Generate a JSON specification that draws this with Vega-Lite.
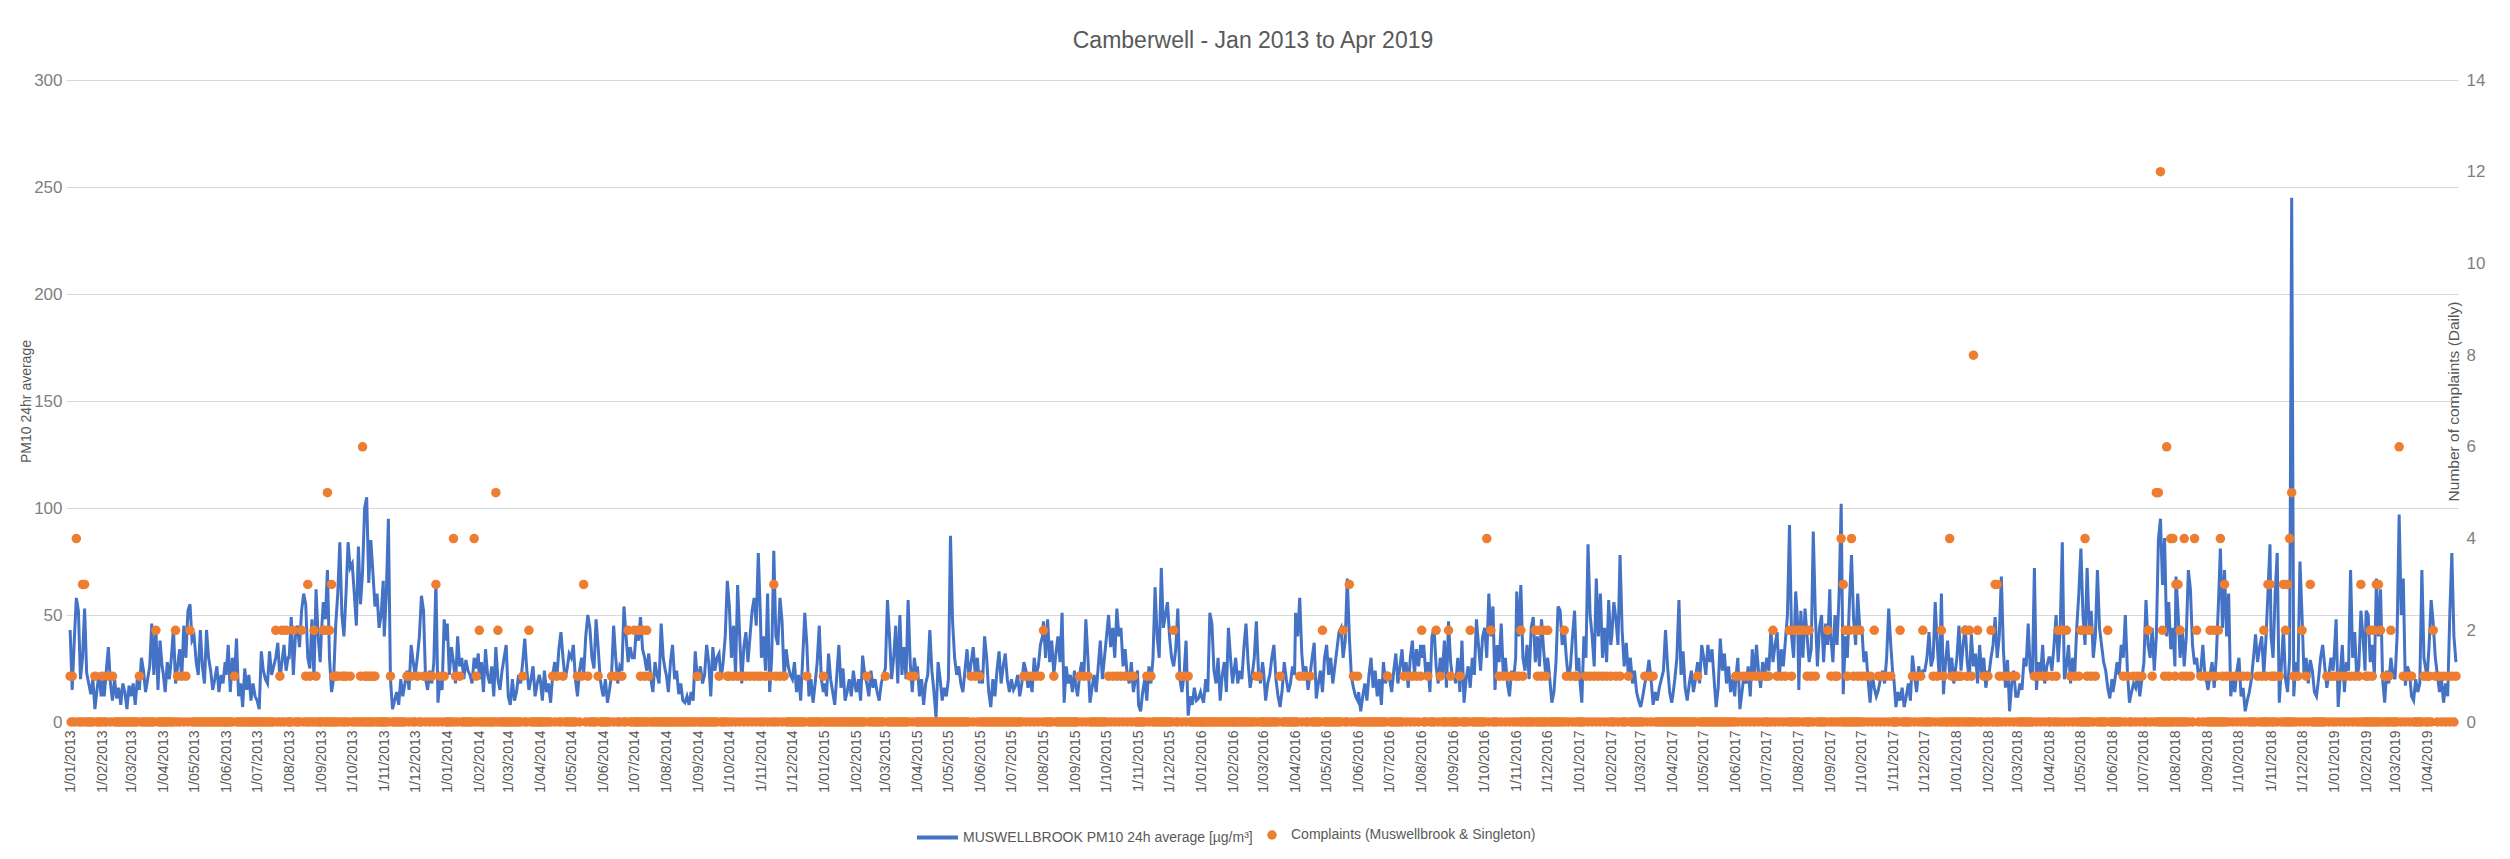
{
"$schema":"https://vega.github.io/schema/vega-lite/v6.json",
"width":2392,"height":642,
"autosize":{"type":"none"},
"padding":{"left":66,"top":80,"right":52,"bottom":137},
"background":"white",
"title":{"text":"Camberwell -  Jan 2013 to Apr 2019","fontSize":23,"fontWeight":"normal","color":"#595959","font":"Liberation Sans","anchor":"middle","frame":"group","offset":3,"dx":-9,"dy":8,"baseline":"bottom"},
"config":{"view":{"stroke":null},"font":"Liberation Sans"},
"data":{"values":[
{"d":"2013-01-01","p":43,"c":1},{"d":"2013-01-03","p":15,"c":1},{"d":"2013-01-05","p":38,"c":0},{"d":"2013-01-07","p":58,"c":4},{"d":"2013-01-09","p":52,"c":0},{"d":"2013-01-11","p":20,"c":0},{"d":"2013-01-13","p":30,"c":3},{"d":"2013-01-15","p":53,"c":3},{"d":"2013-01-17","p":23,"c":0},{"d":"2013-01-19","p":18,"c":0},{"d":"2013-01-21","p":13,"c":0},{"d":"2013-01-23","p":20,"c":0},{"d":"2013-01-25","p":6,"c":1},{"d":"2013-01-27","p":15,"c":0},{"d":"2013-01-29","p":23,"c":0},{"d":"2013-01-31","p":12,"c":0},
{"d":"2013-02-01","p":22,"c":1},{"d":"2013-02-03","p":12,"c":0},{"d":"2013-02-05","p":24,"c":0},{"d":"2013-02-07","p":35,"c":1},{"d":"2013-02-09","p":18,"c":0},{"d":"2013-02-11","p":10,"c":1},{"d":"2013-02-13","p":20,"c":0},{"d":"2013-02-15","p":11,"c":0},{"d":"2013-02-17","p":16,"c":0},{"d":"2013-02-19","p":8,"c":0},{"d":"2013-02-21","p":18,"c":0},{"d":"2013-02-23","p":14,"c":0},{"d":"2013-02-25","p":6,"c":0},{"d":"2013-02-27","p":17,"c":0},
{"d":"2013-03-01","p":12,"c":0},{"d":"2013-03-03","p":18,"c":0},{"d":"2013-03-05","p":8,"c":0},{"d":"2013-03-07","p":20,"c":0},{"d":"2013-03-09","p":15,"c":1},{"d":"2013-03-11","p":30,"c":0},{"d":"2013-03-13","p":24,"c":0},{"d":"2013-03-15","p":14,"c":0},{"d":"2013-03-17","p":20,"c":0},{"d":"2013-03-19","p":26,"c":0},{"d":"2013-03-21","p":46,"c":0},{"d":"2013-03-23","p":22,"c":0},{"d":"2013-03-25","p":44,"c":2},{"d":"2013-03-27","p":15,"c":0},{"d":"2013-03-29","p":38,"c":0},{"d":"2013-03-31","p":26,"c":0},
{"d":"2013-04-01","p":23,"c":0},{"d":"2013-04-03","p":14,"c":0},{"d":"2013-04-05","p":28,"c":0},{"d":"2013-04-07","p":20,"c":0},{"d":"2013-04-09","p":30,"c":0},{"d":"2013-04-11","p":44,"c":0},{"d":"2013-04-13","p":18,"c":2},{"d":"2013-04-15","p":26,"c":1},{"d":"2013-04-17","p":34,"c":0},{"d":"2013-04-19","p":20,"c":1},{"d":"2013-04-21","p":45,"c":0},{"d":"2013-04-23","p":30,"c":1},{"d":"2013-04-25","p":52,"c":0},{"d":"2013-04-27","p":55,"c":2},{"d":"2013-04-29","p":38,"c":0},
{"d":"2013-05-01","p":40,"c":0},{"d":"2013-05-03","p":28,"c":0},{"d":"2013-05-05","p":22,"c":0},{"d":"2013-05-07","p":43,"c":0},{"d":"2013-05-09","p":26,"c":0},{"d":"2013-05-11","p":18,"c":0},{"d":"2013-05-13","p":43,"c":0},{"d":"2013-05-15","p":30,"c":0},{"d":"2013-05-17","p":24,"c":0},{"d":"2013-05-19","p":15,"c":0},{"d":"2013-05-21","p":20,"c":0},{"d":"2013-05-23","p":26,"c":0},{"d":"2013-05-25","p":14,"c":0},{"d":"2013-05-27","p":22,"c":0},{"d":"2013-05-29","p":18,"c":0},{"d":"2013-05-31","p":28,"c":0},
{"d":"2013-06-01","p":22,"c":0},{"d":"2013-06-03","p":36,"c":0},{"d":"2013-06-05","p":14,"c":0},{"d":"2013-06-07","p":30,"c":0},{"d":"2013-06-09","p":20,"c":1},{"d":"2013-06-11","p":39,"c":0},{"d":"2013-06-13","p":12,"c":0},{"d":"2013-06-15","p":18,"c":0},{"d":"2013-06-17","p":7,"c":0},{"d":"2013-06-19","p":25,"c":0},{"d":"2013-06-21","p":15,"c":0},{"d":"2013-06-23","p":22,"c":0},{"d":"2013-06-25","p":10,"c":0},{"d":"2013-06-27","p":18,"c":0},{"d":"2013-06-29","p":12,"c":0},
{"d":"2013-07-01","p":10,"c":0},{"d":"2013-07-03","p":6,"c":0},{"d":"2013-07-05","p":33,"c":0},{"d":"2013-07-07","p":24,"c":0},{"d":"2013-07-09","p":20,"c":0},{"d":"2013-07-11","p":18,"c":0},{"d":"2013-07-13","p":33,"c":0},{"d":"2013-07-15","p":22,"c":0},{"d":"2013-07-17","p":26,"c":0},{"d":"2013-07-19","p":30,"c":2},{"d":"2013-07-21","p":37,"c":0},{"d":"2013-07-23","p":20,"c":1},{"d":"2013-07-25","p":28,"c":2},{"d":"2013-07-27","p":36,"c":0},{"d":"2013-07-29","p":24,"c":2},{"d":"2013-07-31","p":30,"c":0},
{"d":"2013-08-01","p":30,"c":0},{"d":"2013-08-03","p":49,"c":0},{"d":"2013-08-05","p":22,"c":2},{"d":"2013-08-07","p":40,"c":0},{"d":"2013-08-09","p":45,"c":0},{"d":"2013-08-11","p":35,"c":0},{"d":"2013-08-13","p":52,"c":2},{"d":"2013-08-15","p":60,"c":0},{"d":"2013-08-17","p":55,"c":1},{"d":"2013-08-19","p":30,"c":3},{"d":"2013-08-21","p":25,"c":1},{"d":"2013-08-23","p":48,"c":0},{"d":"2013-08-25","p":20,"c":2},{"d":"2013-08-27","p":62,"c":1},{"d":"2013-08-29","p":40,"c":0},{"d":"2013-08-31","p":28,"c":0},
{"d":"2013-09-01","p":40,"c":0},{"d":"2013-09-03","p":56,"c":2},{"d":"2013-09-05","p":48,"c":2},{"d":"2013-09-07","p":71,"c":5},{"d":"2013-09-09","p":30,"c":2},{"d":"2013-09-11","p":14,"c":3},{"d":"2013-09-13","p":20,"c":1},{"d":"2013-09-15","p":45,"c":1},{"d":"2013-09-17","p":60,"c":1},{"d":"2013-09-19","p":84,"c":0},{"d":"2013-09-21","p":50,"c":1},{"d":"2013-09-23","p":40,"c":1},{"d":"2013-09-25","p":60,"c":1},{"d":"2013-09-27","p":84,"c":0},{"d":"2013-09-29","p":72,"c":1},
{"d":"2013-10-01","p":74,"c":0},{"d":"2013-10-03","p":60,"c":0},{"d":"2013-10-05","p":45,"c":0},{"d":"2013-10-07","p":82,"c":0},{"d":"2013-10-09","p":55,"c":1},{"d":"2013-10-11","p":70,"c":6},{"d":"2013-10-13","p":100,"c":1},{"d":"2013-10-15","p":105,"c":1},{"d":"2013-10-17","p":65,"c":1},{"d":"2013-10-19","p":85,"c":1},{"d":"2013-10-21","p":70,"c":1},{"d":"2013-10-23","p":54,"c":1},{"d":"2013-10-25","p":60,"c":0},{"d":"2013-10-27","p":44,"c":0},{"d":"2013-10-29","p":50,"c":0},{"d":"2013-10-31","p":66,"c":0},
{"d":"2013-11-01","p":40,"c":0},{"d":"2013-11-03","p":60,"c":0},{"d":"2013-11-05","p":95,"c":0},{"d":"2013-11-07","p":20,"c":1},{"d":"2013-11-09","p":6,"c":0},{"d":"2013-11-11","p":10,"c":0},{"d":"2013-11-13","p":14,"c":0},{"d":"2013-11-15","p":8,"c":0},{"d":"2013-11-17","p":20,"c":0},{"d":"2013-11-19","p":12,"c":0},{"d":"2013-11-21","p":18,"c":0},{"d":"2013-11-23","p":24,"c":1},{"d":"2013-11-25","p":15,"c":0},{"d":"2013-11-27","p":36,"c":1},{"d":"2013-11-29","p":28,"c":0},
{"d":"2013-12-01","p":22,"c":0},{"d":"2013-12-03","p":30,"c":1},{"d":"2013-12-05","p":40,"c":0},{"d":"2013-12-07","p":59,"c":0},{"d":"2013-12-09","p":52,"c":1},{"d":"2013-12-11","p":20,"c":0},{"d":"2013-12-13","p":15,"c":1},{"d":"2013-12-15","p":24,"c":0},{"d":"2013-12-17","p":18,"c":1},{"d":"2013-12-19","p":28,"c":0},{"d":"2013-12-21","p":66,"c":3},{"d":"2013-12-23","p":9,"c":0},{"d":"2013-12-25","p":20,"c":1},{"d":"2013-12-27","p":15,"c":0},{"d":"2013-12-29","p":48,"c":1},{"d":"2013-12-31","p":38,"c":0},
{"d":"2014-01-01","p":46,"c":0},{"d":"2014-01-03","p":22,"c":0},{"d":"2014-01-05","p":35,"c":0},{"d":"2014-01-07","p":28,"c":4},{"d":"2014-01-09","p":18,"c":1},{"d":"2014-01-11","p":40,"c":0},{"d":"2014-01-13","p":26,"c":1},{"d":"2014-01-15","p":30,"c":0},{"d":"2014-01-17","p":20,"c":0},{"d":"2014-01-19","p":29,"c":0},{"d":"2014-01-21","p":24,"c":0},{"d":"2014-01-23","p":22,"c":0},{"d":"2014-01-25","p":18,"c":0},{"d":"2014-01-27","p":30,"c":4},{"d":"2014-01-29","p":25,"c":1},{"d":"2014-01-31","p":32,"c":0},
{"d":"2014-02-01","p":20,"c":2},{"d":"2014-02-03","p":28,"c":0},{"d":"2014-02-05","p":14,"c":0},{"d":"2014-02-07","p":34,"c":0},{"d":"2014-02-09","p":22,"c":0},{"d":"2014-02-11","p":18,"c":0},{"d":"2014-02-13","p":26,"c":0},{"d":"2014-02-15","p":12,"c":0},{"d":"2014-02-17","p":35,"c":5},{"d":"2014-02-19","p":20,"c":2},{"d":"2014-02-21","p":15,"c":0},{"d":"2014-02-23","p":24,"c":0},{"d":"2014-02-25","p":30,"c":0},{"d":"2014-02-27","p":36,"c":0},
{"d":"2014-03-01","p":12,"c":0},{"d":"2014-03-03","p":8,"c":0},{"d":"2014-03-05","p":20,"c":0},{"d":"2014-03-07","p":10,"c":0},{"d":"2014-03-09","p":14,"c":0},{"d":"2014-03-11","p":22,"c":0},{"d":"2014-03-13","p":18,"c":0},{"d":"2014-03-15","p":28,"c":1},{"d":"2014-03-17","p":39,"c":0},{"d":"2014-03-19","p":24,"c":0},{"d":"2014-03-21","p":15,"c":2},{"d":"2014-03-23","p":20,"c":0},{"d":"2014-03-25","p":26,"c":0},{"d":"2014-03-27","p":12,"c":0},{"d":"2014-03-29","p":18,"c":0},{"d":"2014-03-31","p":22,"c":0},
{"d":"2014-04-01","p":20,"c":0},{"d":"2014-04-03","p":10,"c":0},{"d":"2014-04-05","p":24,"c":0},{"d":"2014-04-07","p":14,"c":0},{"d":"2014-04-09","p":18,"c":0},{"d":"2014-04-11","p":9,"c":0},{"d":"2014-04-13","p":22,"c":1},{"d":"2014-04-15","p":28,"c":0},{"d":"2014-04-17","p":20,"c":1},{"d":"2014-04-19","p":34,"c":0},{"d":"2014-04-21","p":42,"c":0},{"d":"2014-04-23","p":30,"c":1},{"d":"2014-04-25","p":20,"c":0},{"d":"2014-04-27","p":25,"c":0},{"d":"2014-04-29","p":32,"c":0},
{"d":"2014-05-01","p":30,"c":0},{"d":"2014-05-03","p":36,"c":0},{"d":"2014-05-05","p":20,"c":0},{"d":"2014-05-07","p":12,"c":1},{"d":"2014-05-09","p":24,"c":0},{"d":"2014-05-11","p":30,"c":1},{"d":"2014-05-13","p":22,"c":3},{"d":"2014-05-15","p":40,"c":0},{"d":"2014-05-17","p":50,"c":1},{"d":"2014-05-19","p":44,"c":0},{"d":"2014-05-21","p":30,"c":0},{"d":"2014-05-23","p":25,"c":0},{"d":"2014-05-25","p":48,"c":0},{"d":"2014-05-27","p":35,"c":1},{"d":"2014-05-29","p":20,"c":0},{"d":"2014-05-31","p":14,"c":0},
{"d":"2014-06-01","p":12,"c":0},{"d":"2014-06-03","p":20,"c":0},{"d":"2014-06-05","p":9,"c":0},{"d":"2014-06-07","p":15,"c":0},{"d":"2014-06-09","p":22,"c":1},{"d":"2014-06-11","p":45,"c":0},{"d":"2014-06-13","p":30,"c":1},{"d":"2014-06-15","p":18,"c":0},{"d":"2014-06-17","p":26,"c":0},{"d":"2014-06-19","p":24,"c":1},{"d":"2014-06-21","p":54,"c":0},{"d":"2014-06-23","p":40,"c":0},{"d":"2014-06-25","p":28,"c":2},{"d":"2014-06-27","p":35,"c":0},{"d":"2014-06-29","p":30,"c":0},
{"d":"2014-07-01","p":30,"c":2},{"d":"2014-07-03","p":44,"c":0},{"d":"2014-07-05","p":38,"c":2},{"d":"2014-07-07","p":49,"c":1},{"d":"2014-07-09","p":34,"c":2},{"d":"2014-07-11","p":30,"c":1},{"d":"2014-07-13","p":24,"c":2},{"d":"2014-07-15","p":32,"c":1},{"d":"2014-07-17","p":20,"c":0},{"d":"2014-07-19","p":14,"c":0},{"d":"2014-07-21","p":28,"c":0},{"d":"2014-07-23","p":22,"c":0},{"d":"2014-07-25","p":18,"c":0},{"d":"2014-07-27","p":46,"c":0},{"d":"2014-07-29","p":30,"c":0},{"d":"2014-07-31","p":24,"c":0},
{"d":"2014-08-01","p":22,"c":0},{"d":"2014-08-03","p":14,"c":0},{"d":"2014-08-05","p":28,"c":0},{"d":"2014-08-07","p":36,"c":0},{"d":"2014-08-09","p":20,"c":0},{"d":"2014-08-11","p":24,"c":0},{"d":"2014-08-13","p":13,"c":0},{"d":"2014-08-15","p":18,"c":0},{"d":"2014-08-17","p":10,"c":0},{"d":"2014-08-19","p":9,"c":0},{"d":"2014-08-21","p":12,"c":0},{"d":"2014-08-23","p":8,"c":0},{"d":"2014-08-25","p":14,"c":0},{"d":"2014-08-27","p":10,"c":0},{"d":"2014-08-29","p":33,"c":0},{"d":"2014-08-31","p":20,"c":1},
{"d":"2014-09-01","p":20,"c":0},{"d":"2014-09-03","p":26,"c":0},{"d":"2014-09-05","p":18,"c":0},{"d":"2014-09-07","p":22,"c":0},{"d":"2014-09-09","p":36,"c":0},{"d":"2014-09-11","p":28,"c":0},{"d":"2014-09-13","p":12,"c":0},{"d":"2014-09-15","p":35,"c":0},{"d":"2014-09-17","p":24,"c":0},{"d":"2014-09-19","p":30,"c":0},{"d":"2014-09-21","p":32,"c":1},{"d":"2014-09-23","p":20,"c":0},{"d":"2014-09-25","p":28,"c":0},{"d":"2014-09-27","p":40,"c":0},{"d":"2014-09-29","p":66,"c":1},
{"d":"2014-10-01","p":54,"c":1},{"d":"2014-10-03","p":30,"c":0},{"d":"2014-10-05","p":45,"c":1},{"d":"2014-10-07","p":22,"c":0},{"d":"2014-10-09","p":64,"c":1},{"d":"2014-10-11","p":40,"c":0},{"d":"2014-10-13","p":18,"c":1},{"d":"2014-10-15","p":35,"c":0},{"d":"2014-10-17","p":42,"c":1},{"d":"2014-10-19","p":28,"c":0},{"d":"2014-10-21","p":40,"c":1},{"d":"2014-10-23","p":52,"c":0},{"d":"2014-10-25","p":58,"c":1},{"d":"2014-10-27","p":45,"c":0},{"d":"2014-10-29","p":79,"c":1},{"d":"2014-10-31","p":50,"c":0},
{"d":"2014-11-01","p":30,"c":1},{"d":"2014-11-03","p":40,"c":0},{"d":"2014-11-05","p":24,"c":1},{"d":"2014-11-07","p":60,"c":0},{"d":"2014-11-09","p":14,"c":1},{"d":"2014-11-11","p":30,"c":0},{"d":"2014-11-13","p":80,"c":3},{"d":"2014-11-15","p":40,"c":1},{"d":"2014-11-17","p":36,"c":0},{"d":"2014-11-19","p":58,"c":1},{"d":"2014-11-21","p":47,"c":0},{"d":"2014-11-23","p":20,"c":1},{"d":"2014-11-25","p":34,"c":0},{"d":"2014-11-27","p":26,"c":0},{"d":"2014-11-29","p":22,"c":0},
{"d":"2014-12-01","p":20,"c":0},{"d":"2014-12-03","p":28,"c":0},{"d":"2014-12-05","p":14,"c":0},{"d":"2014-12-07","p":22,"c":0},{"d":"2014-12-09","p":10,"c":0},{"d":"2014-12-11","p":30,"c":0},{"d":"2014-12-13","p":51,"c":0},{"d":"2014-12-15","p":36,"c":1},{"d":"2014-12-17","p":12,"c":0},{"d":"2014-12-19","p":20,"c":0},{"d":"2014-12-21","p":9,"c":0},{"d":"2014-12-23","p":18,"c":0},{"d":"2014-12-25","p":28,"c":0},{"d":"2014-12-27","p":45,"c":0},{"d":"2014-12-29","p":20,"c":0},{"d":"2014-12-31","p":14,"c":1},
{"d":"2015-01-01","p":18,"c":0},{"d":"2015-01-03","p":12,"c":0},{"d":"2015-01-05","p":32,"c":0},{"d":"2015-01-07","p":20,"c":0},{"d":"2015-01-09","p":14,"c":0},{"d":"2015-01-11","p":8,"c":0},{"d":"2015-01-13","p":22,"c":0},{"d":"2015-01-15","p":36,"c":0},{"d":"2015-01-17","p":16,"c":0},{"d":"2015-01-19","p":25,"c":0},{"d":"2015-01-21","p":10,"c":0},{"d":"2015-01-23","p":14,"c":0},{"d":"2015-01-25","p":20,"c":0},{"d":"2015-01-27","p":12,"c":0},{"d":"2015-01-29","p":24,"c":0},{"d":"2015-01-31","p":16,"c":0},
{"d":"2015-02-01","p":14,"c":0},{"d":"2015-02-03","p":20,"c":0},{"d":"2015-02-05","p":10,"c":0},{"d":"2015-02-07","p":31,"c":0},{"d":"2015-02-09","p":22,"c":0},{"d":"2015-02-11","p":18,"c":1},{"d":"2015-02-13","p":12,"c":0},{"d":"2015-02-15","p":24,"c":0},{"d":"2015-02-17","p":16,"c":0},{"d":"2015-02-19","p":20,"c":0},{"d":"2015-02-21","p":14,"c":0},{"d":"2015-02-23","p":10,"c":0},{"d":"2015-02-25","p":18,"c":0},{"d":"2015-02-27","p":22,"c":0},
{"d":"2015-03-01","p":25,"c":1},{"d":"2015-03-03","p":57,"c":0},{"d":"2015-03-05","p":40,"c":0},{"d":"2015-03-07","p":20,"c":0},{"d":"2015-03-09","p":30,"c":0},{"d":"2015-03-11","p":45,"c":0},{"d":"2015-03-13","p":18,"c":0},{"d":"2015-03-15","p":50,"c":0},{"d":"2015-03-17","p":22,"c":0},{"d":"2015-03-19","p":35,"c":0},{"d":"2015-03-21","p":20,"c":0},{"d":"2015-03-23","p":57,"c":0},{"d":"2015-03-25","p":28,"c":1},{"d":"2015-03-27","p":14,"c":0},{"d":"2015-03-29","p":30,"c":1},{"d":"2015-03-31","p":22,"c":0},
{"d":"2015-04-01","p":26,"c":0},{"d":"2015-04-03","p":12,"c":0},{"d":"2015-04-05","p":20,"c":0},{"d":"2015-04-07","p":8,"c":0},{"d":"2015-04-09","p":18,"c":0},{"d":"2015-04-11","p":22,"c":0},{"d":"2015-04-13","p":43,"c":0},{"d":"2015-04-15","p":24,"c":0},{"d":"2015-04-17","p":14,"c":0},{"d":"2015-04-19","p":2,"c":0},{"d":"2015-04-21","p":28,"c":0},{"d":"2015-04-23","p":20,"c":0},{"d":"2015-04-25","p":10,"c":0},{"d":"2015-04-27","p":16,"c":0},{"d":"2015-04-29","p":12,"c":0},
{"d":"2015-05-01","p":20,"c":0},{"d":"2015-05-03","p":87,"c":0},{"d":"2015-05-05","p":47,"c":0},{"d":"2015-05-07","p":30,"c":0},{"d":"2015-05-09","p":22,"c":0},{"d":"2015-05-11","p":26,"c":0},{"d":"2015-05-13","p":18,"c":0},{"d":"2015-05-15","p":14,"c":0},{"d":"2015-05-17","p":24,"c":0},{"d":"2015-05-19","p":34,"c":0},{"d":"2015-05-21","p":20,"c":0},{"d":"2015-05-23","p":28,"c":1},{"d":"2015-05-25","p":35,"c":0},{"d":"2015-05-27","p":22,"c":1},{"d":"2015-05-29","p":30,"c":0},{"d":"2015-05-31","p":18,"c":1},
{"d":"2015-06-01","p":24,"c":0},{"d":"2015-06-03","p":18,"c":0},{"d":"2015-06-05","p":40,"c":0},{"d":"2015-06-07","p":30,"c":0},{"d":"2015-06-09","p":14,"c":0},{"d":"2015-06-11","p":7,"c":0},{"d":"2015-06-13","p":20,"c":0},{"d":"2015-06-15","p":12,"c":0},{"d":"2015-06-17","p":24,"c":0},{"d":"2015-06-19","p":33,"c":0},{"d":"2015-06-21","p":18,"c":0},{"d":"2015-06-23","p":26,"c":0},{"d":"2015-06-25","p":32,"c":0},{"d":"2015-06-27","p":20,"c":0},{"d":"2015-06-29","p":14,"c":0},
{"d":"2015-07-01","p":20,"c":0},{"d":"2015-07-03","p":15,"c":0},{"d":"2015-07-05","p":17,"c":0},{"d":"2015-07-07","p":22,"c":0},{"d":"2015-07-09","p":12,"c":0},{"d":"2015-07-11","p":18,"c":0},{"d":"2015-07-13","p":28,"c":1},{"d":"2015-07-15","p":24,"c":0},{"d":"2015-07-17","p":16,"c":1},{"d":"2015-07-19","p":20,"c":0},{"d":"2015-07-21","p":14,"c":1},{"d":"2015-07-23","p":30,"c":0},{"d":"2015-07-25","p":22,"c":1},{"d":"2015-07-27","p":26,"c":0},{"d":"2015-07-29","p":36,"c":1},{"d":"2015-07-31","p":40,"c":0},
{"d":"2015-08-01","p":47,"c":2},{"d":"2015-08-03","p":30,"c":0},{"d":"2015-08-05","p":48,"c":0},{"d":"2015-08-07","p":28,"c":0},{"d":"2015-08-09","p":38,"c":0},{"d":"2015-08-11","p":22,"c":1},{"d":"2015-08-13","p":32,"c":0},{"d":"2015-08-15","p":40,"c":0},{"d":"2015-08-17","p":28,"c":0},{"d":"2015-08-19","p":51,"c":0},{"d":"2015-08-21","p":9,"c":0},{"d":"2015-08-23","p":26,"c":0},{"d":"2015-08-25","p":18,"c":0},{"d":"2015-08-27","p":22,"c":0},{"d":"2015-08-29","p":14,"c":0},{"d":"2015-08-31","p":24,"c":0},
{"d":"2015-09-01","p":18,"c":0},{"d":"2015-09-03","p":12,"c":0},{"d":"2015-09-05","p":22,"c":1},{"d":"2015-09-07","p":28,"c":0},{"d":"2015-09-09","p":20,"c":1},{"d":"2015-09-11","p":48,"c":0},{"d":"2015-09-13","p":30,"c":1},{"d":"2015-09-15","p":9,"c":0},{"d":"2015-09-17","p":16,"c":0},{"d":"2015-09-19","p":22,"c":0},{"d":"2015-09-21","p":14,"c":0},{"d":"2015-09-23","p":26,"c":0},{"d":"2015-09-25","p":38,"c":0},{"d":"2015-09-27","p":20,"c":0},{"d":"2015-09-29","p":30,"c":0},
{"d":"2015-10-01","p":40,"c":0},{"d":"2015-10-03","p":50,"c":1},{"d":"2015-10-05","p":35,"c":0},{"d":"2015-10-07","p":44,"c":1},{"d":"2015-10-09","p":30,"c":0},{"d":"2015-10-11","p":53,"c":1},{"d":"2015-10-13","p":40,"c":0},{"d":"2015-10-15","p":44,"c":1},{"d":"2015-10-17","p":26,"c":0},{"d":"2015-10-19","p":34,"c":1},{"d":"2015-10-21","p":22,"c":0},{"d":"2015-10-23","p":18,"c":1},{"d":"2015-10-25","p":28,"c":0},{"d":"2015-10-27","p":14,"c":1},{"d":"2015-10-29","p":20,"c":0},{"d":"2015-10-31","p":24,"c":0},
{"d":"2015-11-01","p":8,"c":0},{"d":"2015-11-03","p":5,"c":0},{"d":"2015-11-05","p":14,"c":0},{"d":"2015-11-07","p":20,"c":0},{"d":"2015-11-09","p":10,"c":1},{"d":"2015-11-11","p":26,"c":0},{"d":"2015-11-13","p":18,"c":1},{"d":"2015-11-15","p":30,"c":0},{"d":"2015-11-17","p":63,"c":0},{"d":"2015-11-19","p":40,"c":0},{"d":"2015-11-21","p":30,"c":0},{"d":"2015-11-23","p":72,"c":0},{"d":"2015-11-25","p":44,"c":0},{"d":"2015-11-27","p":50,"c":0},{"d":"2015-11-29","p":56,"c":0},
{"d":"2015-12-01","p":40,"c":0},{"d":"2015-12-03","p":30,"c":0},{"d":"2015-12-05","p":26,"c":2},{"d":"2015-12-07","p":34,"c":0},{"d":"2015-12-09","p":53,"c":0},{"d":"2015-12-11","p":20,"c":1},{"d":"2015-12-13","p":14,"c":0},{"d":"2015-12-15","p":22,"c":1},{"d":"2015-12-17","p":38,"c":0},{"d":"2015-12-19","p":3,"c":1},{"d":"2015-12-21","p":12,"c":0},{"d":"2015-12-23","p":8,"c":0},{"d":"2015-12-25","p":16,"c":0},{"d":"2015-12-27","p":10,"c":0},{"d":"2015-12-29","p":11,"c":0},{"d":"2015-12-31","p":14,"c":0},
{"d":"2016-01-01","p":12,"c":0},{"d":"2016-01-03","p":9,"c":0},{"d":"2016-01-05","p":20,"c":0},{"d":"2016-01-07","p":14,"c":0},{"d":"2016-01-09","p":51,"c":0},{"d":"2016-01-11","p":46,"c":0},{"d":"2016-01-13","p":24,"c":0},{"d":"2016-01-15","p":18,"c":0},{"d":"2016-01-17","p":30,"c":0},{"d":"2016-01-19","p":10,"c":0},{"d":"2016-01-21","p":22,"c":0},{"d":"2016-01-23","p":28,"c":0},{"d":"2016-01-25","p":14,"c":0},{"d":"2016-01-27","p":44,"c":0},{"d":"2016-01-29","p":30,"c":0},{"d":"2016-01-31","p":18,"c":0},
{"d":"2016-02-01","p":22,"c":0},{"d":"2016-02-03","p":30,"c":0},{"d":"2016-02-05","p":18,"c":0},{"d":"2016-02-07","p":24,"c":0},{"d":"2016-02-09","p":20,"c":0},{"d":"2016-02-11","p":35,"c":0},{"d":"2016-02-13","p":46,"c":0},{"d":"2016-02-15","p":28,"c":0},{"d":"2016-02-17","p":16,"c":0},{"d":"2016-02-19","p":22,"c":0},{"d":"2016-02-21","p":30,"c":0},{"d":"2016-02-23","p":47,"c":1},{"d":"2016-02-25","p":24,"c":1},{"d":"2016-02-27","p":18,"c":0},{"d":"2016-02-29","p":28,"c":0},
{"d":"2016-03-01","p":24,"c":0},{"d":"2016-03-03","p":10,"c":0},{"d":"2016-03-05","p":18,"c":0},{"d":"2016-03-07","p":22,"c":0},{"d":"2016-03-09","p":30,"c":0},{"d":"2016-03-11","p":36,"c":0},{"d":"2016-03-13","p":20,"c":0},{"d":"2016-03-15","p":12,"c":0},{"d":"2016-03-17","p":7,"c":1},{"d":"2016-03-19","p":15,"c":0},{"d":"2016-03-21","p":28,"c":0},{"d":"2016-03-23","p":20,"c":0},{"d":"2016-03-25","p":14,"c":0},{"d":"2016-03-27","p":18,"c":0},{"d":"2016-03-29","p":26,"c":0},{"d":"2016-03-31","p":22,"c":0},
{"d":"2016-04-01","p":51,"c":0},{"d":"2016-04-03","p":40,"c":0},{"d":"2016-04-05","p":58,"c":1},{"d":"2016-04-07","p":32,"c":0},{"d":"2016-04-09","p":20,"c":1},{"d":"2016-04-11","p":26,"c":0},{"d":"2016-04-13","p":15,"c":0},{"d":"2016-04-15","p":22,"c":1},{"d":"2016-04-17","p":30,"c":0},{"d":"2016-04-19","p":37,"c":0},{"d":"2016-04-21","p":11,"c":0},{"d":"2016-04-23","p":18,"c":0},{"d":"2016-04-25","p":24,"c":0},{"d":"2016-04-27","p":14,"c":2},{"d":"2016-04-29","p":30,"c":0},
{"d":"2016-05-01","p":36,"c":0},{"d":"2016-05-03","p":22,"c":0},{"d":"2016-05-05","p":30,"c":0},{"d":"2016-05-07","p":18,"c":0},{"d":"2016-05-09","p":26,"c":0},{"d":"2016-05-11","p":34,"c":0},{"d":"2016-05-13","p":42,"c":0},{"d":"2016-05-15","p":44,"c":0},{"d":"2016-05-17","p":30,"c":2},{"d":"2016-05-19","p":38,"c":0},{"d":"2016-05-21","p":67,"c":0},{"d":"2016-05-23","p":40,"c":3},{"d":"2016-05-25","p":21,"c":0},{"d":"2016-05-27","p":16,"c":1},{"d":"2016-05-29","p":12,"c":0},{"d":"2016-05-31","p":10,"c":1},
{"d":"2016-06-01","p":14,"c":0},{"d":"2016-06-03","p":5,"c":0},{"d":"2016-06-05","p":12,"c":0},{"d":"2016-06-07","p":18,"c":0},{"d":"2016-06-09","p":10,"c":0},{"d":"2016-06-11","p":22,"c":0},{"d":"2016-06-13","p":30,"c":0},{"d":"2016-06-15","p":16,"c":0},{"d":"2016-06-17","p":24,"c":0},{"d":"2016-06-19","p":12,"c":0},{"d":"2016-06-21","p":20,"c":0},{"d":"2016-06-23","p":8,"c":0},{"d":"2016-06-25","p":28,"c":0},{"d":"2016-06-27","p":18,"c":0},{"d":"2016-06-29","p":22,"c":1},
{"d":"2016-07-01","p":20,"c":0},{"d":"2016-07-03","p":14,"c":0},{"d":"2016-07-05","p":24,"c":0},{"d":"2016-07-07","p":32,"c":0},{"d":"2016-07-09","p":18,"c":0},{"d":"2016-07-11","p":26,"c":0},{"d":"2016-07-13","p":34,"c":0},{"d":"2016-07-15","p":20,"c":1},{"d":"2016-07-17","p":28,"c":0},{"d":"2016-07-19","p":16,"c":1},{"d":"2016-07-21","p":30,"c":0},{"d":"2016-07-23","p":38,"c":1},{"d":"2016-07-25","p":22,"c":0},{"d":"2016-07-27","p":34,"c":1},{"d":"2016-07-29","p":26,"c":0},{"d":"2016-07-31","p":36,"c":1},
{"d":"2016-08-01","p":30,"c":2},{"d":"2016-08-03","p":36,"c":0},{"d":"2016-08-05","p":22,"c":0},{"d":"2016-08-07","p":28,"c":1},{"d":"2016-08-09","p":14,"c":0},{"d":"2016-08-11","p":40,"c":0},{"d":"2016-08-13","p":44,"c":0},{"d":"2016-08-15","p":26,"c":2},{"d":"2016-08-17","p":18,"c":0},{"d":"2016-08-19","p":30,"c":1},{"d":"2016-08-21","p":22,"c":0},{"d":"2016-08-23","p":38,"c":0},{"d":"2016-08-25","p":16,"c":0},{"d":"2016-08-27","p":47,"c":2},{"d":"2016-08-29","p":28,"c":1},{"d":"2016-08-31","p":20,"c":0},
{"d":"2016-09-01","p":22,"c":0},{"d":"2016-09-03","p":18,"c":0},{"d":"2016-09-05","p":30,"c":0},{"d":"2016-09-07","p":14,"c":1},{"d":"2016-09-09","p":38,"c":0},{"d":"2016-09-11","p":9,"c":0},{"d":"2016-09-13","p":20,"c":0},{"d":"2016-09-15","p":26,"c":0},{"d":"2016-09-17","p":16,"c":2},{"d":"2016-09-19","p":30,"c":0},{"d":"2016-09-21","p":22,"c":0},{"d":"2016-09-23","p":48,"c":0},{"d":"2016-09-25","p":36,"c":0},{"d":"2016-09-27","p":24,"c":0},{"d":"2016-09-29","p":40,"c":0},
{"d":"2016-10-01","p":44,"c":0},{"d":"2016-10-03","p":30,"c":4},{"d":"2016-10-05","p":60,"c":0},{"d":"2016-10-07","p":40,"c":2},{"d":"2016-10-09","p":54,"c":0},{"d":"2016-10-11","p":15,"c":0},{"d":"2016-10-13","p":36,"c":0},{"d":"2016-10-15","p":28,"c":1},{"d":"2016-10-17","p":46,"c":0},{"d":"2016-10-19","p":22,"c":1},{"d":"2016-10-21","p":30,"c":0},{"d":"2016-10-23","p":18,"c":1},{"d":"2016-10-25","p":12,"c":0},{"d":"2016-10-27","p":24,"c":1},{"d":"2016-10-29","p":20,"c":0},{"d":"2016-10-31","p":30,"c":1},
{"d":"2016-11-01","p":61,"c":0},{"d":"2016-11-03","p":40,"c":1},{"d":"2016-11-05","p":64,"c":2},{"d":"2016-11-07","p":30,"c":1},{"d":"2016-11-09","p":24,"c":0},{"d":"2016-11-11","p":36,"c":0},{"d":"2016-11-13","p":20,"c":0},{"d":"2016-11-15","p":44,"c":0},{"d":"2016-11-17","p":49,"c":0},{"d":"2016-11-19","p":28,"c":2},{"d":"2016-11-21","p":40,"c":1},{"d":"2016-11-23","p":26,"c":2},{"d":"2016-11-25","p":48,"c":1},{"d":"2016-11-27","p":34,"c":2},{"d":"2016-11-29","p":22,"c":1},
{"d":"2016-12-01","p":30,"c":2},{"d":"2016-12-03","p":20,"c":0},{"d":"2016-12-05","p":9,"c":0},{"d":"2016-12-07","p":14,"c":0},{"d":"2016-12-09","p":28,"c":0},{"d":"2016-12-11","p":54,"c":0},{"d":"2016-12-13","p":52,"c":0},{"d":"2016-12-15","p":36,"c":0},{"d":"2016-12-17","p":44,"c":2},{"d":"2016-12-19","p":30,"c":1},{"d":"2016-12-21","p":20,"c":0},{"d":"2016-12-23","p":26,"c":1},{"d":"2016-12-25","p":40,"c":0},{"d":"2016-12-27","p":52,"c":1},{"d":"2016-12-29","p":24,"c":1},{"d":"2016-12-31","p":30,"c":0},
{"d":"2017-01-01","p":20,"c":0},{"d":"2017-01-03","p":9,"c":0},{"d":"2017-01-05","p":40,"c":0},{"d":"2017-01-07","p":30,"c":1},{"d":"2017-01-09","p":83,"c":0},{"d":"2017-01-11","p":50,"c":1},{"d":"2017-01-13","p":40,"c":0},{"d":"2017-01-15","p":26,"c":1},{"d":"2017-01-17","p":67,"c":0},{"d":"2017-01-19","p":40,"c":1},{"d":"2017-01-21","p":60,"c":0},{"d":"2017-01-23","p":30,"c":1},{"d":"2017-01-25","p":44,"c":0},{"d":"2017-01-27","p":28,"c":1},{"d":"2017-01-29","p":57,"c":0},{"d":"2017-01-31","p":36,"c":1},
{"d":"2017-02-01","p":40,"c":0},{"d":"2017-02-03","p":56,"c":0},{"d":"2017-02-05","p":48,"c":1},{"d":"2017-02-07","p":36,"c":0},{"d":"2017-02-09","p":78,"c":1},{"d":"2017-02-11","p":43,"c":0},{"d":"2017-02-13","p":26,"c":0},{"d":"2017-02-15","p":37,"c":0},{"d":"2017-02-17","p":22,"c":1},{"d":"2017-02-19","p":30,"c":0},{"d":"2017-02-21","p":18,"c":0},{"d":"2017-02-23","p":24,"c":0},{"d":"2017-02-25","p":14,"c":0},{"d":"2017-02-27","p":10,"c":0},
{"d":"2017-03-01","p":7,"c":0},{"d":"2017-03-03","p":12,"c":0},{"d":"2017-03-05","p":18,"c":1},{"d":"2017-03-07","p":22,"c":0},{"d":"2017-03-09","p":29,"c":1},{"d":"2017-03-11","p":20,"c":0},{"d":"2017-03-13","p":8,"c":1},{"d":"2017-03-15","p":14,"c":0},{"d":"2017-03-17","p":10,"c":0},{"d":"2017-03-19","p":16,"c":0},{"d":"2017-03-21","p":20,"c":0},{"d":"2017-03-23","p":24,"c":0},{"d":"2017-03-25","p":43,"c":0},{"d":"2017-03-27","p":26,"c":0},{"d":"2017-03-29","p":14,"c":0},{"d":"2017-03-31","p":9,"c":0},
{"d":"2017-04-01","p":12,"c":0},{"d":"2017-04-03","p":20,"c":0},{"d":"2017-04-05","p":30,"c":0},{"d":"2017-04-07","p":57,"c":0},{"d":"2017-04-09","p":22,"c":0},{"d":"2017-04-11","p":33,"c":0},{"d":"2017-04-13","p":16,"c":0},{"d":"2017-04-15","p":10,"c":0},{"d":"2017-04-17","p":18,"c":0},{"d":"2017-04-19","p":24,"c":0},{"d":"2017-04-21","p":14,"c":0},{"d":"2017-04-23","p":20,"c":0},{"d":"2017-04-25","p":28,"c":1},{"d":"2017-04-27","p":18,"c":0},{"d":"2017-04-29","p":36,"c":0},
{"d":"2017-05-01","p":30,"c":0},{"d":"2017-05-03","p":22,"c":0},{"d":"2017-05-05","p":36,"c":0},{"d":"2017-05-07","p":28,"c":0},{"d":"2017-05-09","p":34,"c":0},{"d":"2017-05-11","p":20,"c":0},{"d":"2017-05-13","p":7,"c":0},{"d":"2017-05-15","p":16,"c":0},{"d":"2017-05-17","p":39,"c":0},{"d":"2017-05-19","p":24,"c":0},{"d":"2017-05-21","p":32,"c":0},{"d":"2017-05-23","p":18,"c":0},{"d":"2017-05-25","p":26,"c":0},{"d":"2017-05-27","p":14,"c":0},{"d":"2017-05-29","p":20,"c":0},{"d":"2017-05-31","p":12,"c":0},
{"d":"2017-06-01","p":20,"c":1},{"d":"2017-06-03","p":30,"c":0},{"d":"2017-06-05","p":6,"c":1},{"d":"2017-06-07","p":14,"c":0},{"d":"2017-06-09","p":22,"c":1},{"d":"2017-06-11","p":18,"c":0},{"d":"2017-06-13","p":26,"c":1},{"d":"2017-06-15","p":12,"c":0},{"d":"2017-06-17","p":34,"c":1},{"d":"2017-06-19","p":20,"c":0},{"d":"2017-06-21","p":36,"c":1},{"d":"2017-06-23","p":24,"c":0},{"d":"2017-06-25","p":16,"c":1},{"d":"2017-06-27","p":28,"c":0},{"d":"2017-06-29","p":22,"c":1},
{"d":"2017-07-01","p":30,"c":1},{"d":"2017-07-03","p":24,"c":1},{"d":"2017-07-05","p":43,"c":0},{"d":"2017-07-07","p":28,"c":2},{"d":"2017-07-09","p":36,"c":0},{"d":"2017-07-11","p":42,"c":1},{"d":"2017-07-13","p":20,"c":0},{"d":"2017-07-15","p":34,"c":1},{"d":"2017-07-17","p":26,"c":0},{"d":"2017-07-19","p":38,"c":1},{"d":"2017-07-21","p":50,"c":0},{"d":"2017-07-23","p":92,"c":2},{"d":"2017-07-25","p":40,"c":1},{"d":"2017-07-27","p":30,"c":2},{"d":"2017-07-29","p":61,"c":0},{"d":"2017-07-31","p":45,"c":2},
{"d":"2017-08-01","p":15,"c":0},{"d":"2017-08-03","p":52,"c":2},{"d":"2017-08-05","p":30,"c":0},{"d":"2017-08-07","p":53,"c":2},{"d":"2017-08-09","p":40,"c":1},{"d":"2017-08-11","p":28,"c":2},{"d":"2017-08-13","p":34,"c":1},{"d":"2017-08-15","p":89,"c":0},{"d":"2017-08-17","p":50,"c":1},{"d":"2017-08-19","p":26,"c":0},{"d":"2017-08-21","p":44,"c":0},{"d":"2017-08-23","p":50,"c":0},{"d":"2017-08-25","p":28,"c":0},{"d":"2017-08-27","p":46,"c":0},{"d":"2017-08-29","p":36,"c":2},{"d":"2017-08-31","p":62,"c":0},
{"d":"2017-09-01","p":40,"c":1},{"d":"2017-09-03","p":28,"c":0},{"d":"2017-09-05","p":50,"c":1},{"d":"2017-09-07","p":36,"c":1},{"d":"2017-09-09","p":60,"c":0},{"d":"2017-09-11","p":102,"c":4},{"d":"2017-09-13","p":13,"c":3},{"d":"2017-09-15","p":40,"c":2},{"d":"2017-09-17","p":30,"c":1},{"d":"2017-09-19","p":56,"c":2},{"d":"2017-09-21","p":78,"c":4},{"d":"2017-09-23","p":48,"c":1},{"d":"2017-09-25","p":36,"c":2},{"d":"2017-09-27","p":60,"c":1},{"d":"2017-09-29","p":44,"c":2},
{"d":"2017-10-01","p":44,"c":1},{"d":"2017-10-03","p":28,"c":0},{"d":"2017-10-05","p":33,"c":1},{"d":"2017-10-07","p":20,"c":0},{"d":"2017-10-09","p":9,"c":1},{"d":"2017-10-11","p":23,"c":0},{"d":"2017-10-13","p":16,"c":2},{"d":"2017-10-15","p":12,"c":0},{"d":"2017-10-17","p":15,"c":1},{"d":"2017-10-19","p":20,"c":0},{"d":"2017-10-21","p":24,"c":1},{"d":"2017-10-23","p":18,"c":0},{"d":"2017-10-25","p":30,"c":1},{"d":"2017-10-27","p":53,"c":0},{"d":"2017-10-29","p":36,"c":1},{"d":"2017-10-31","p":22,"c":0},
{"d":"2017-11-01","p":20,"c":0},{"d":"2017-11-03","p":7,"c":0},{"d":"2017-11-05","p":14,"c":0},{"d":"2017-11-07","p":10,"c":2},{"d":"2017-11-09","p":16,"c":0},{"d":"2017-11-11","p":7,"c":0},{"d":"2017-11-13","p":12,"c":0},{"d":"2017-11-15","p":18,"c":0},{"d":"2017-11-17","p":10,"c":0},{"d":"2017-11-19","p":31,"c":1},{"d":"2017-11-21","p":22,"c":0},{"d":"2017-11-23","p":14,"c":1},{"d":"2017-11-25","p":26,"c":0},{"d":"2017-11-27","p":20,"c":1},{"d":"2017-11-29","p":24,"c":2},
{"d":"2017-12-01","p":24,"c":0},{"d":"2017-12-03","p":30,"c":0},{"d":"2017-12-05","p":42,"c":0},{"d":"2017-12-07","p":26,"c":0},{"d":"2017-12-09","p":30,"c":1},{"d":"2017-12-11","p":56,"c":0},{"d":"2017-12-13","p":36,"c":1},{"d":"2017-12-15","p":20,"c":0},{"d":"2017-12-17","p":60,"c":2},{"d":"2017-12-19","p":13,"c":1},{"d":"2017-12-21","p":28,"c":0},{"d":"2017-12-23","p":38,"c":0},{"d":"2017-12-25","p":22,"c":4},{"d":"2017-12-27","p":30,"c":1},{"d":"2017-12-29","p":18,"c":1},{"d":"2017-12-31","p":26,"c":0},
{"d":"2018-01-01","p":30,"c":1},{"d":"2018-01-03","p":45,"c":1},{"d":"2018-01-05","p":24,"c":1},{"d":"2018-01-07","p":36,"c":0},{"d":"2018-01-09","p":45,"c":2},{"d":"2018-01-11","p":28,"c":1},{"d":"2018-01-13","p":20,"c":2},{"d":"2018-01-15","p":41,"c":1},{"d":"2018-01-17","p":26,"c":8},{"d":"2018-01-19","p":32,"c":0},{"d":"2018-01-21","p":18,"c":2},{"d":"2018-01-23","p":36,"c":0},{"d":"2018-01-25","p":22,"c":0},{"d":"2018-01-27","p":30,"c":1},{"d":"2018-01-29","p":16,"c":0},{"d":"2018-01-31","p":24,"c":1},
{"d":"2018-02-01","p":22,"c":0},{"d":"2018-02-03","p":30,"c":2},{"d":"2018-02-05","p":36,"c":0},{"d":"2018-02-07","p":49,"c":3},{"d":"2018-02-09","p":30,"c":3},{"d":"2018-02-11","p":40,"c":1},{"d":"2018-02-13","p":68,"c":0},{"d":"2018-02-15","p":34,"c":1},{"d":"2018-02-17","p":16,"c":0},{"d":"2018-02-19","p":29,"c":1},{"d":"2018-02-21","p":5,"c":0},{"d":"2018-02-23","p":18,"c":1},{"d":"2018-02-25","p":24,"c":0},{"d":"2018-02-27","p":12,"c":1},
{"d":"2018-03-01","p":12,"c":0},{"d":"2018-03-03","p":18,"c":0},{"d":"2018-03-05","p":15,"c":0},{"d":"2018-03-07","p":30,"c":0},{"d":"2018-03-09","p":26,"c":0},{"d":"2018-03-11","p":46,"c":0},{"d":"2018-03-13","p":24,"c":0},{"d":"2018-03-15","p":20,"c":0},{"d":"2018-03-17","p":72,"c":1},{"d":"2018-03-19","p":15,"c":0},{"d":"2018-03-21","p":28,"c":1},{"d":"2018-03-23","p":22,"c":0},{"d":"2018-03-25","p":36,"c":1},{"d":"2018-03-27","p":18,"c":0},{"d":"2018-03-29","p":26,"c":1},{"d":"2018-03-31","p":30,"c":0},
{"d":"2018-04-01","p":30,"c":0},{"d":"2018-04-03","p":24,"c":1},{"d":"2018-04-05","p":36,"c":0},{"d":"2018-04-07","p":50,"c":1},{"d":"2018-04-09","p":28,"c":2},{"d":"2018-04-11","p":44,"c":0},{"d":"2018-04-13","p":84,"c":2},{"d":"2018-04-15","p":20,"c":0},{"d":"2018-04-17","p":26,"c":2},{"d":"2018-04-19","p":36,"c":0},{"d":"2018-04-21","p":18,"c":1},{"d":"2018-04-23","p":30,"c":0},{"d":"2018-04-25","p":22,"c":1},{"d":"2018-04-27","p":44,"c":0},{"d":"2018-04-29","p":60,"c":1},
{"d":"2018-05-01","p":81,"c":2},{"d":"2018-05-03","p":50,"c":2},{"d":"2018-05-05","p":36,"c":4},{"d":"2018-05-07","p":72,"c":1},{"d":"2018-05-09","p":44,"c":2},{"d":"2018-05-11","p":52,"c":1},{"d":"2018-05-13","p":30,"c":0},{"d":"2018-05-15","p":40,"c":1},{"d":"2018-05-17","p":71,"c":0},{"d":"2018-05-19","p":44,"c":0},{"d":"2018-05-21","p":36,"c":0},{"d":"2018-05-23","p":28,"c":0},{"d":"2018-05-25","p":24,"c":0},{"d":"2018-05-27","p":16,"c":2},{"d":"2018-05-29","p":11,"c":0},{"d":"2018-05-31","p":20,"c":0},
{"d":"2018-06-01","p":14,"c":0},{"d":"2018-06-03","p":20,"c":0},{"d":"2018-06-05","p":28,"c":0},{"d":"2018-06-07","p":22,"c":0},{"d":"2018-06-09","p":36,"c":0},{"d":"2018-06-11","p":30,"c":1},{"d":"2018-06-13","p":50,"c":0},{"d":"2018-06-15","p":24,"c":1},{"d":"2018-06-17","p":9,"c":0},{"d":"2018-06-19","p":14,"c":0},{"d":"2018-06-21","p":18,"c":1},{"d":"2018-06-23","p":16,"c":0},{"d":"2018-06-25","p":22,"c":1},{"d":"2018-06-27","p":12,"c":0},{"d":"2018-06-29","p":20,"c":1},
{"d":"2018-07-01","p":28,"c":0},{"d":"2018-07-03","p":57,"c":0},{"d":"2018-07-05","p":36,"c":2},{"d":"2018-07-07","p":30,"c":0},{"d":"2018-07-09","p":44,"c":1},{"d":"2018-07-11","p":24,"c":0},{"d":"2018-07-13","p":40,"c":5},{"d":"2018-07-15","p":85,"c":5},{"d":"2018-07-17","p":95,"c":12},{"d":"2018-07-19","p":64,"c":2},{"d":"2018-07-21","p":86,"c":1},{"d":"2018-07-23","p":40,"c":6},{"d":"2018-07-25","p":56,"c":1},{"d":"2018-07-27","p":34,"c":4},{"d":"2018-07-29","p":44,"c":4},{"d":"2018-07-31","p":26,"c":1},
{"d":"2018-08-01","p":68,"c":3},{"d":"2018-08-03","p":52,"c":3},{"d":"2018-08-05","p":30,"c":2},{"d":"2018-08-07","p":44,"c":1},{"d":"2018-08-09","p":26,"c":4},{"d":"2018-08-11","p":40,"c":1},{"d":"2018-08-13","p":71,"c":0},{"d":"2018-08-15","p":62,"c":1},{"d":"2018-08-17","p":36,"c":0},{"d":"2018-08-19","p":27,"c":4},{"d":"2018-08-21","p":30,"c":2},{"d":"2018-08-23","p":20,"c":0},{"d":"2018-08-25","p":24,"c":1},{"d":"2018-08-27","p":36,"c":0},{"d":"2018-08-29","p":22,"c":1},{"d":"2018-08-31","p":18,"c":0},
{"d":"2018-09-01","p":15,"c":1},{"d":"2018-09-03","p":22,"c":2},{"d":"2018-09-05","p":28,"c":1},{"d":"2018-09-07","p":16,"c":2},{"d":"2018-09-09","p":30,"c":1},{"d":"2018-09-11","p":54,"c":2},{"d":"2018-09-13","p":81,"c":4},{"d":"2018-09-15","p":44,"c":1},{"d":"2018-09-17","p":71,"c":3},{"d":"2018-09-19","p":40,"c":1},{"d":"2018-09-21","p":60,"c":0},{"d":"2018-09-23","p":12,"c":1},{"d":"2018-09-25","p":20,"c":0},{"d":"2018-09-27","p":14,"c":1},{"d":"2018-09-29","p":24,"c":0},
{"d":"2018-10-01","p":30,"c":1},{"d":"2018-10-03","p":12,"c":0},{"d":"2018-10-05","p":16,"c":1},{"d":"2018-10-07","p":5,"c":0},{"d":"2018-10-09","p":10,"c":1},{"d":"2018-10-11","p":14,"c":0},{"d":"2018-10-13","p":20,"c":0},{"d":"2018-10-15","p":30,"c":0},{"d":"2018-10-17","p":41,"c":0},{"d":"2018-10-19","p":28,"c":1},{"d":"2018-10-21","p":35,"c":0},{"d":"2018-10-23","p":40,"c":1},{"d":"2018-10-25","p":22,"c":2},{"d":"2018-10-27","p":38,"c":1},{"d":"2018-10-29","p":60,"c":3},{"d":"2018-10-31","p":83,"c":3},
{"d":"2018-11-01","p":40,"c":1},{"d":"2018-11-03","p":30,"c":1},{"d":"2018-11-05","p":60,"c":1},{"d":"2018-11-07","p":79,"c":0},{"d":"2018-11-09","p":9,"c":1},{"d":"2018-11-11","p":26,"c":0},{"d":"2018-11-13","p":44,"c":3},{"d":"2018-11-15","p":20,"c":2},{"d":"2018-11-17","p":14,"c":3},{"d":"2018-11-19","p":30,"c":4},{"d":"2018-11-21","p":245,"c":5},{"d":"2018-11-23","p":12,"c":1},{"d":"2018-11-25","p":28,"c":0},{"d":"2018-11-27","p":20,"c":1},{"d":"2018-11-29","p":75,"c":0},
{"d":"2018-12-01","p":50,"c":2},{"d":"2018-12-03","p":21,"c":0},{"d":"2018-12-05","p":30,"c":1},{"d":"2018-12-07","p":18,"c":0},{"d":"2018-12-09","p":29,"c":3},{"d":"2018-12-11","p":24,"c":0},{"d":"2018-12-13","p":14,"c":0},{"d":"2018-12-15","p":12,"c":0},{"d":"2018-12-17","p":20,"c":0},{"d":"2018-12-19","p":30,"c":0},{"d":"2018-12-21","p":36,"c":0},{"d":"2018-12-23","p":26,"c":0},{"d":"2018-12-25","p":16,"c":1},{"d":"2018-12-27","p":22,"c":0},{"d":"2018-12-29","p":30,"c":1},{"d":"2018-12-31","p":24,"c":0},
{"d":"2019-01-01","p":30,"c":1},{"d":"2019-01-03","p":48,"c":0},{"d":"2019-01-05","p":7,"c":1},{"d":"2019-01-07","p":22,"c":0},{"d":"2019-01-09","p":36,"c":1},{"d":"2019-01-11","p":14,"c":0},{"d":"2019-01-13","p":28,"c":1},{"d":"2019-01-15","p":24,"c":0},{"d":"2019-01-17","p":71,"c":1},{"d":"2019-01-19","p":30,"c":0},{"d":"2019-01-21","p":42,"c":1},{"d":"2019-01-23","p":20,"c":0},{"d":"2019-01-25","p":26,"c":1},{"d":"2019-01-27","p":52,"c":3},{"d":"2019-01-29","p":40,"c":0},{"d":"2019-01-31","p":24,"c":0},
{"d":"2019-02-01","p":52,"c":1},{"d":"2019-02-03","p":50,"c":1},{"d":"2019-02-05","p":28,"c":2},{"d":"2019-02-07","p":36,"c":1},{"d":"2019-02-09","p":22,"c":2},{"d":"2019-02-11","p":67,"c":3},{"d":"2019-02-13","p":40,"c":3},{"d":"2019-02-15","p":62,"c":2},{"d":"2019-02-17","p":20,"c":0},{"d":"2019-02-19","p":9,"c":1},{"d":"2019-02-21","p":24,"c":1},{"d":"2019-02-23","p":18,"c":1},{"d":"2019-02-25","p":30,"c":2},{"d":"2019-02-27","p":22,"c":0},
{"d":"2019-03-01","p":20,"c":0},{"d":"2019-03-03","p":40,"c":0},{"d":"2019-03-05","p":97,"c":6},{"d":"2019-03-07","p":50,"c":0},{"d":"2019-03-09","p":67,"c":1},{"d":"2019-03-11","p":17,"c":0},{"d":"2019-03-13","p":26,"c":1},{"d":"2019-03-15","p":23,"c":0},{"d":"2019-03-17","p":12,"c":1},{"d":"2019-03-19","p":10,"c":0},{"d":"2019-03-21","p":20,"c":0},{"d":"2019-03-23","p":14,"c":0},{"d":"2019-03-25","p":18,"c":0},{"d":"2019-03-27","p":71,"c":0},{"d":"2019-03-29","p":30,"c":1},{"d":"2019-03-31","p":24,"c":0},
{"d":"2019-04-01","p":20,"c":1},{"d":"2019-04-03","p":36,"c":1},{"d":"2019-04-05","p":57,"c":0},{"d":"2019-04-07","p":46,"c":2},{"d":"2019-04-09","p":30,"c":1},{"d":"2019-04-11","p":22,"c":0},{"d":"2019-04-13","p":14,"c":1},{"d":"2019-04-15","p":20,"c":0},{"d":"2019-04-17","p":9,"c":1},{"d":"2019-04-19","p":18,"c":0},{"d":"2019-04-21","p":12,"c":1},{"d":"2019-04-23","p":50,"c":0},{"d":"2019-04-25","p":79,"c":1},{"d":"2019-04-27","p":40,"c":0},{"d":"2019-04-29","p":28,"c":1},
{"d":"2013-01-02","c":0},{"d":"2013-01-14","c":0},{"d":"2013-04-14","c":0},{"d":"2013-07-24","c":0},{"d":"2013-08-18","c":0},{"d":"2013-08-20","c":0},{"d":"2013-08-26","c":0},{"d":"2013-09-04","c":0},{"d":"2013-09-06","c":0},{"d":"2013-09-08","c":0},{"d":"2013-09-10","c":0},{"d":"2013-09-12","c":0},{"d":"2013-09-14","c":0},{"d":"2013-09-16","c":0},{"d":"2013-09-22","c":0},{"d":"2013-09-24","c":0},{"d":"2013-10-10","c":0},{"d":"2013-10-12","c":0},{"d":"2013-10-14","c":0},{"d":"2013-10-16","c":0},{"d":"2013-10-18","c":0},{"d":"2013-10-20","c":0},{"d":"2013-10-22","c":0},
{"d":"2014-01-08","c":0},{"d":"2014-01-28","c":0},{"d":"2014-02-18","c":0},{"d":"2014-07-02","c":0},{"d":"2014-07-04","c":0},{"d":"2014-07-06","c":0},{"d":"2014-07-08","c":0},{"d":"2014-07-10","c":0},{"d":"2014-07-12","c":0},{"d":"2014-07-14","c":0},{"d":"2014-09-30","c":0},{"d":"2014-11-14","c":0},
{"d":"2016-02-24","c":0},{"d":"2016-08-28","c":0},{"d":"2016-11-04","c":0},{"d":"2016-11-06","c":0},{"d":"2016-11-20","c":0},{"d":"2016-11-22","c":0},{"d":"2016-11-24","c":0},{"d":"2016-11-26","c":0},{"d":"2016-11-28","c":0},{"d":"2016-11-30","c":0},{"d":"2016-12-18","c":0},{"d":"2016-12-28","c":0},
{"d":"2017-06-30","c":0},{"d":"2017-07-02","c":0},{"d":"2017-07-24","c":0},{"d":"2017-07-26","c":0},{"d":"2017-08-08","c":0},{"d":"2017-08-10","c":0},{"d":"2017-08-12","c":0},{"d":"2017-09-06","c":0},{"d":"2017-09-12","c":0},{"d":"2017-09-14","c":0},{"d":"2017-09-16","c":0},{"d":"2017-09-18","c":0},{"d":"2017-09-20","c":0},{"d":"2017-09-22","c":0},{"d":"2017-09-24","c":0},{"d":"2017-09-26","c":0},{"d":"2017-09-28","c":0},{"d":"2017-09-30","c":0},{"d":"2017-11-28","c":0},{"d":"2017-12-18","c":0},{"d":"2017-12-26","c":0},{"d":"2017-12-28","c":0},
{"d":"2018-01-02","c":0},{"d":"2018-01-04","c":0},{"d":"2018-01-10","c":0},{"d":"2018-01-12","c":0},{"d":"2018-01-14","c":0},{"d":"2018-01-16","c":0},{"d":"2018-02-08","c":0},{"d":"2018-02-10","c":0},{"d":"2018-04-08","c":0},{"d":"2018-04-30","c":0},{"d":"2018-05-02","c":0},{"d":"2018-05-04","c":0},{"d":"2018-05-06","c":0},{"d":"2018-05-08","c":0},{"d":"2018-05-10","c":0},
{"d":"2018-07-14","c":0},{"d":"2018-07-16","c":0},{"d":"2018-07-18","c":0},{"d":"2018-07-20","c":0},{"d":"2018-07-22","c":0},{"d":"2018-07-24","c":0},{"d":"2018-07-26","c":0},{"d":"2018-07-28","c":0},{"d":"2018-07-30","c":0},{"d":"2018-08-02","c":0},{"d":"2018-08-04","c":0},{"d":"2018-08-06","c":0},{"d":"2018-08-08","c":0},{"d":"2018-08-10","c":0},
{"d":"2018-09-02","c":0},{"d":"2018-09-04","c":0},{"d":"2018-09-06","c":0},{"d":"2018-09-08","c":0},{"d":"2018-09-10","c":0},{"d":"2018-09-12","c":0},{"d":"2018-09-14","c":0},{"d":"2018-09-16","c":0},{"d":"2018-09-18","c":0},{"d":"2018-10-24","c":0},{"d":"2018-10-26","c":0},{"d":"2018-10-28","c":0},{"d":"2018-10-30","c":0},{"d":"2018-11-02","c":0},{"d":"2018-11-04","c":0},{"d":"2018-11-14","c":0},{"d":"2018-11-16","c":0},{"d":"2018-11-18","c":0},{"d":"2018-11-20","c":0},{"d":"2018-11-22","c":0},
{"d":"2019-01-26","c":0},{"d":"2019-02-02","c":0},{"d":"2019-02-04","c":0},{"d":"2019-02-06","c":0},{"d":"2019-02-08","c":0},{"d":"2019-02-10","c":0},{"d":"2019-02-12","c":0},{"d":"2019-02-14","c":0},{"d":"2019-02-20","c":0},{"d":"2019-02-22","c":0},{"d":"2019-02-24","c":0},{"d":"2019-04-02","c":0}
]},
"encoding":{
"x":{"field":"d","type":"temporal",
"scale":{"type":"utc","nice":false,"domain":[1356652800000,1556665200000]},
"axis":{"title":null,"format":"%-d/%m/%Y","tickCount":76,"labelAngle":270,"labelAlign":"right","labelBaseline":"middle","labelPadding":8,"labelFontSize":14,"labelColor":"#595959","labelFont":"Liberation Sans","labelOverlap":false,"labelBound":false,"labelFlush":false,"grid":false,"domain":false,"ticks":false}}
},
"layer":[
{"mark":{"type":"line","strokeWidth":3,"invalid":"filter"},
"encoding":{
"y":{"field":"p","type":"quantitative","scale":{"domain":[0,300],"nice":false},
"axis":{"values":[0,50,100,150,200,250,300],"grid":true,"gridColor":"#D9D9D9","gridWidth":1,"domain":false,"ticks":false,"labelColor":"#7F7F7F","labelFontSize":17,"labelFont":"Liberation Sans","labelPadding":4,"title":"PM10 24hr average","titleFontWeight":"normal","titleFontSize":14,"titleColor":"#595959","titleFont":"Liberation Sans","titlePadding":0}},
"stroke":{"datum":"MUSWELLBROOK PM10 24h average [µg/m³]","scale":{"range":["#4472C4"]},
"legend":{"orient":"none","legendX":849,"legendY":735,"title":null,"symbolType":"stroke","symbolSize":1681,"symbolStrokeWidth":4,"labelFontSize":14,"labelColor":"#595959","labelFont":"Liberation Sans","labelLimit":0,"labelOffset":3}}
}},
{"mark":{"type":"circle","size":90,"opacity":1},
"encoding":{
"y":{"field":"c","type":"quantitative","scale":{"domain":[0,14],"nice":false},
"axis":{"orient":"right","values":[0,2,4,6,8,10,12,14],"grid":false,"domain":false,"ticks":false,"labelColor":"#7F7F7F","labelFontSize":17,"labelFont":"Liberation Sans","labelPadding":8,"title":"Number of complaints (Daily)","titleAngle":270,"titleFontWeight":"normal","titleFontSize":15.5,"titleColor":"#595959","titleFont":"Liberation Sans","titlePadding":-23}},
"fill":{"datum":"Complaints (Muswellbrook & Singleton)","scale":{"range":["#ED7D31"]},
"legend":{"orient":"none","legendX":1199,"legendY":748,"title":null,"symbolType":"circle","symbolSize":90,"labelFontSize":14,"labelColor":"#595959","labelFont":"Liberation Sans","labelLimit":0,"labelOffset":12}}
}}
],
"resolve":{"scale":{"y":"independent"}}
}
